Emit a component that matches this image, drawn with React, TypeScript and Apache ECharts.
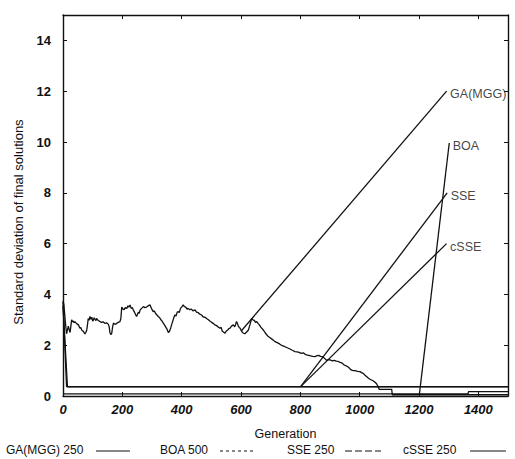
import React, { useEffect, useRef } from "react";
import * as echarts from "echarts";

// GA(MGG) 250: standard deviation per generation
const gaGen = [
  0, 3, 8, 12, 15, 18, 21, 24, 27, 29, 32, 35, 38, 40, 46, 52, 57, 60, 63, 68, 74, 77, 80,
  83, 85, 88, 91, 94, 97, 100, 102, 105, 108, 111, 113, 118, 122, 125, 130, 135, 141, 147,
  153, 156, 158, 161, 164, 167, 170, 175, 180, 186, 192, 195, 198, 202, 206, 210, 215, 219,
  222, 226, 230, 234, 237, 241, 245, 248, 251, 254, 257, 260, 265, 271, 276, 282, 287, 293,
  298, 304, 308, 312, 316, 321, 326, 330, 334, 338, 343, 347, 351, 355, 359, 363, 366, 370,
  374, 377, 381, 385, 389, 392, 396, 400, 405, 409, 414, 418, 422, 427, 433, 438, 445, 450,
  456, 461, 467, 472, 479, 484, 490, 495, 501, 506, 512, 516, 520, 525, 529, 533, 537, 541,
  546, 550, 555, 559, 563, 568, 574, 579, 585, 588, 591, 594, 597, 601, 605, 609, 613, 619,
  625, 630, 636, 640, 645, 649, 653, 658, 662, 666, 670, 675, 681, 686, 692, 697, 703, 709,
  715, 722, 730, 739, 748, 756, 765, 773, 782, 789, 796, 803, 810, 815, 821, 828, 835, 842,
  849, 855, 862, 868, 875, 882, 889, 895, 900, 908, 915, 921, 928, 934, 940, 948, 956, 960,
  965, 969, 973, 979, 985, 993, 1001, 1006, 1012, 1018, 1024, 1030, 1035, 1040, 1045, 1051,
  1057, 1063, 1066, 1108, 1110, 1500,
];
const gaStd = [
  3.75, 3.6, 2.9, 2.45, 2.6, 2.75, 2.6, 2.5, 2.8, 3.0, 2.92, 2.95, 2.88, 2.93, 2.85, 2.8, 2.67, 2.7, 2.6, 2.55, 2.45, 2.5, 2.6,
  2.85, 3.05, 2.98, 3.13, 3.02, 3.1, 2.95, 2.98, 3.08, 3.02, 2.97, 3.05, 2.98, 2.95, 2.93, 2.9, 2.92, 2.86, 2.88,
  2.82, 2.7, 2.5, 2.42, 2.45, 2.7, 2.87, 2.82, 2.85, 2.9, 2.93, 3.05, 3.5, 3.42, 3.4, 3.48, 3.45, 3.55,
  3.5, 3.58, 3.45, 3.48, 3.38, 3.3, 3.2, 3.13, 3.22, 3.3, 3.25, 3.39, 3.45, 3.52, 3.48, 3.5, 3.55, 3.59,
  3.45, 3.32, 3.35, 3.25, 3.2, 3.13, 3.08, 3.0, 2.95, 2.87, 2.78, 2.7, 2.62, 2.5, 2.55, 2.68, 2.8, 2.95,
  3.1, 3.19, 3.15, 3.3, 3.32, 3.28, 3.45, 3.5, 3.59, 3.52, 3.5, 3.42, 3.45, 3.4, 3.42, 3.35, 3.39, 3.3,
  3.28, 3.22, 3.19, 3.12, 3.1, 3.05, 3.0, 2.95, 2.9, 2.86, 2.8, 2.78, 2.75, 2.7, 2.67, 2.7, 2.55, 2.52,
  2.47, 2.55, 2.6, 2.65, 2.67, 2.75, 2.8, 2.72, 2.93, 2.85, 2.75, 2.7, 2.67, 2.58, 2.5, 2.47, 2.45, 2.52,
  2.6, 2.8, 3.06, 3.0, 2.98, 2.9, 2.93, 2.85, 2.8, 2.72, 2.67, 2.6, 2.5, 2.42, 2.34, 2.3, 2.25, 2.2,
  2.14, 2.1, 2.05, 1.98, 1.94, 1.9, 1.85, 1.8, 1.75, 1.74, 1.72, 1.68, 1.7, 1.65, 1.62, 1.6, 1.58, 1.56,
  1.55, 1.58, 1.6, 1.56, 1.55, 1.48, 1.4, 1.43, 1.42, 1.38, 1.4, 1.37, 1.36, 1.32, 1.3, 1.22, 1.18, 1.15,
  1.1, 1.05, 1.02, 1.0, 1.0, 0.97, 0.96, 0.92, 0.89, 0.82, 0.76, 0.7, 0.66, 0.63, 0.6, 0.55,
  0.48, 0.35, 0.26, 0.26, 0.05, 0.05,
];

// BOA 500
const boaGen = [0, 1365, 1367, 1500];
const boaStd = [0.08, 0.08, 0.17, 0.17];

// SSE 250
const sseGen = [0, 12, 1500];
const sseStd = [3.7, 0.37, 0.37];

// cSSE 250
const csseGen = [0, 15, 1500];
const csseStd = [3.55, 0.36, 0.36];

// Callout labels: text, label anchor and the curve point the leader touches
const calloutNames = ["GA(MGG)", "BOA", "SSE", "cSSE"];
const calloutFrom = [
  [1293, 12],
  [1302, 9.96],
  [1295, 8],
  [1293, 6],
];
const calloutTo = [
  [600, 2.55],
  [1201, 0.04],
  [801, 0.37],
  [801, 0.37],
];

// Legend entries
const legendNames = ["GA(MGG) 250", "BOA 500", "SSE 250", "cSSE 250"];

const yTicks = [0, 2, 4, 6, 8, 10, 12, 14];

const FONT = "'Liberation Sans', Arial, Helvetica, sans-serif";
const INK = "#111";

const pairs = (xs: number[], ys: number[]) => xs.map((x, i) => [x, ys[i]]);

export default function App() {
  const ref = useRef<HTMLDivElement>(null);

  useEffect(() => {
    if (!ref.current) return;
    const chart = echarts.init(ref.current, undefined, { renderer: "svg" });

    const curveStyle = { color: INK, width: 1.3 };
    const curve = (name: string, xs: number[], ys: number[]) => ({
      name,
      type: "line",
      data: pairs(xs, ys),
      showSymbol: false,
      symbol: "none",
      lineStyle: curveStyle,
      itemStyle: { color: INK },
      silent: true,
      z: 3,
    });

    const leaders = calloutNames.map((n, i) => ({
      name: n + "-leader",
      type: "line",
      data: [calloutFrom[i], calloutTo[i]],
      showSymbol: false,
      symbol: "none",
      lineStyle: { color: INK, width: 1.3 },
      silent: true,
      z: 3,
    }));

    const calloutLabels = {
      type: "scatter",
      data: calloutNames.map((n, i) => ({ value: calloutFrom[i], name: n })),
      symbolSize: 1,
      itemStyle: { color: "rgba(0,0,0,0)" },
      silent: true,
      label: {
        show: true,
        position: "right",
        distance: 3,
        offset: [0, 3],
        formatter: (p: any) => p.name,
        fontFamily: FONT,
        fontSize: 12.5,
        color: INK,
      },
      z: 4,
    };

    // Legend: text followed by a line sample, laid out along the bottom
    const legendX = [6, 160, 287, 403];
    const sampleX = [
      [96, 130],
      [220, 256],
      [345, 381],
      [470, 506],
    ];
    const sampleDash: any[] = [null, [3, 3], [7, 3], null];
    const legendY = 451;
    const extraGraphics: any[] = [];
    legendNames.forEach((n, i) => {
      extraGraphics.push({
        type: "text",
        left: legendX[i],
        top: legendY - 7,
        style: { text: n, font: `12px ${FONT}`, fill: INK },
      });
      extraGraphics.push({
        type: "line",
        shape: { x1: sampleX[i][0], y1: legendY, x2: sampleX[i][1], y2: legendY },
        style: { stroke: INK, lineWidth: 1.2, lineDash: sampleDash[i] || undefined },
      });
    });
    // Vertical y-axis title
    extraGraphics.push({
      type: "text",
      x: 18,
      y: 222,
      rotation: Math.PI / 2,
      style: {
        text: "Standard deviation of final solutions",
        font: `13px ${FONT}`,
        fill: INK,
        align: "center",
        verticalAlign: "middle",
      },
    });

    const tickCommon = { show: true, inside: true, length: 4, lineStyle: { color: INK, width: 1 } };
    const lineCommon = { show: true, onZero: false, lineStyle: { color: INK, width: 1.4 } };
    const plain = (v: number) => String(v);

    chart.setOption({
      animation: false,
      backgroundColor: "#fff",
      grid: { left: 63, right: 7, top: 15, bottom: 63, containLabel: false },
      xAxis: [
        {
          type: "value",
          position: "bottom",
          min: 0,
          max: 1500,
          interval: 200,
          axisLine: lineCommon,
          axisTick: tickCommon,
          splitLine: { show: false },
          axisLabel: {
            showMaxLabel: false,
            formatter: plain,
            margin: 7,
            fontFamily: FONT,
            fontSize: 13,
            fontWeight: "bold",
            fontStyle: "italic",
            color: INK,
          },
          name: "Generation",
          nameLocation: "middle",
          nameGap: 31,
          nameTextStyle: { fontFamily: FONT, fontSize: 12.5, color: INK },
        },
        {
          type: "value",
          position: "top",
          min: 0,
          max: 1500,
          interval: 200,
          axisLine: lineCommon,
          axisTick: tickCommon,
          axisLabel: { show: false },
          splitLine: { show: false },
        },
      ],
      yAxis: [
        {
          type: "value",
          position: "left",
          min: yTicks[0],
          max: 15,
          interval: 2,
          axisLine: lineCommon,
          axisTick: tickCommon,
          splitLine: { show: false },
          axisLabel: {
            showMaxLabel: false,
            formatter: plain,
            margin: 12,
            fontFamily: FONT,
            fontSize: 13,
            fontWeight: "bold",
            color: INK,
          },
        },
        {
          type: "value",
          position: "right",
          min: 0,
          max: 15,
          interval: 2,
          axisLine: lineCommon,
          axisTick: tickCommon,
          axisLabel: { show: false },
          splitLine: { show: false },
        },
      ],
      series: [
        curve("GA(MGG) 250", gaGen, gaStd),
        curve("BOA 500", boaGen, boaStd),
        curve("SSE 250", sseGen, sseStd),
        curve("cSSE 250", csseGen, csseStd),
        ...leaders,
        calloutLabels,
      ],
      graphic: extraGraphics,
    });

    return () => chart.dispose();
  }, []);

  return (
    <div
      ref={ref}
      style={{ position: "fixed", left: 0, top: 0, width: 515, height: 459, background: "#fff" }}
    />
  );
}
